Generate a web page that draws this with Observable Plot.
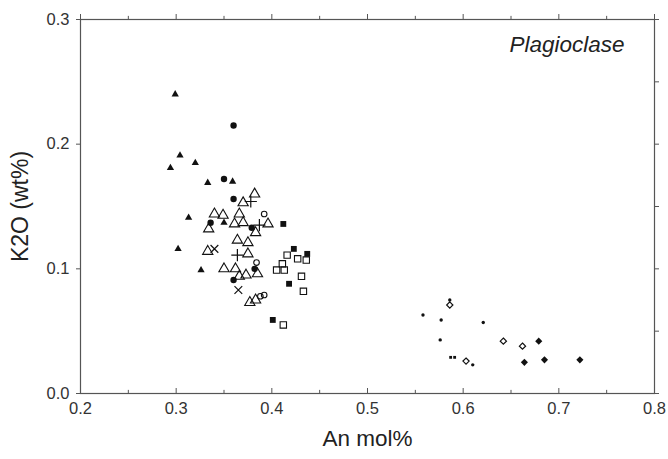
<!DOCTYPE html>
<html>
<head>
<meta charset="utf-8">
<script src="https://cdn.jsdelivr.net/npm/d3@7"></script>
<script src="https://cdn.jsdelivr.net/npm/@observablehq/plot@0.6"></script>
<style>
  html, body { margin: 0; padding: 0; background: #fff; }
  svg { font-family: "Liberation Sans", Arial, Helvetica, sans-serif; }
</style>
</head>
<body>
<div id="chart"></div>
<script>
// Tick values
const xMajorTicks = [0.2, 0.3, 0.4, 0.5, 0.6, 0.7, 0.8];
const xMinorTicks = [0.25, 0.35, 0.45, 0.55, 0.65, 0.75];
const yMajorTicks = [0.0, 0.1, 0.2, 0.3];
const yAllTicks = [0.0, 0.05, 0.1, 0.15, 0.2, 0.25, 0.3];

// Series: [An mol%, K2O wt%]
const filledTriangles = [
  [0.299, 0.240], [0.304, 0.191], [0.320, 0.185], [0.294, 0.181], [0.333, 0.169],
  [0.359, 0.170], [0.313, 0.141], [0.350, 0.137], [0.302, 0.116], [0.326, 0.099]
];
const filledCircles = [
  [0.360, 0.215], [0.350, 0.172], [0.360, 0.156], [0.336, 0.137], [0.379, 0.133],
  [0.382, 0.100], [0.360, 0.091]
];
const openTriangles = [
  [0.382, 0.160], [0.370, 0.153], [0.340, 0.144], [0.349, 0.143], [0.366, 0.144],
  [0.334, 0.132], [0.361, 0.136], [0.370, 0.137], [0.396, 0.136], [0.383, 0.129],
  [0.364, 0.123], [0.375, 0.121], [0.333, 0.114], [0.375, 0.112], [0.362, 0.100],
  [0.385, 0.096], [0.350, 0.100], [0.366, 0.094], [0.373, 0.095], [0.377, 0.073],
  [0.383, 0.075]
];
const plusMarks = [[0.378, 0.154], [0.387, 0.135], [0.364, 0.111]];
const crossMarks = [[0.340, 0.116], [0.365, 0.083]];
const openCircles = [[0.392, 0.144], [0.384, 0.105], [0.388, 0.078], [0.392, 0.079]];
const filledSquares = [[0.412, 0.136], [0.423, 0.116], [0.437, 0.112], [0.418, 0.088], [0.401, 0.059]];
const openSquares = [
  [0.416, 0.111], [0.427, 0.108], [0.436, 0.107], [0.411, 0.104], [0.405, 0.099],
  [0.413, 0.099], [0.431, 0.094], [0.433, 0.082], [0.412, 0.055]
];
const smallDots = [[0.558, 0.063], [0.577, 0.059], [0.576, 0.043], [0.610, 0.023], [0.621, 0.057], [0.586, 0.075]];
const openDiamonds = [[0.586, 0.071], [0.642, 0.042], [0.662, 0.038], [0.603, 0.026]];
const filledDiamonds = [[0.679, 0.042], [0.664, 0.025], [0.685, 0.027], [0.722, 0.027]];
const dashMarks = [[0.589, 0.029]];

const ink = "#111";
const axisColor = "#555";
const labelColor = "#333";

const plot = Plot.plot({
  width: 668,
  height: 459,
  marginLeft: 80,
  marginRight: 14,
  marginTop: 19,
  marginBottom: 66,
  style: {fontFamily: "'Liberation Sans', Arial, Helvetica, sans-serif", background: "#fff"},
  x: {domain: [0.2, 0.8]},
  y: {domain: [0, 0.3]},
  marks: [
    Plot.frame({stroke: axisColor, strokeWidth: 1.2}),
    // bottom axis labels
    Plot.axisX({ticks: xMajorTicks, tickSize: 0, tickPadding: 9, tickFormat: d3.format(".1f"),
      fontSize: 16.5, fill: labelColor, label: null}),
    // bottom inward ticks
    Plot.ruleX(xMajorTicks, {x: d => d, y1: 0, y2: 0.004, stroke: axisColor}),
    Plot.ruleX(xMinorTicks, {x: d => d, y1: 0, y2: 0.0025, stroke: axisColor}),
    // top outward ticks
    Plot.ruleX(xMajorTicks, {x: d => d, y1: 0.3, y2: 0.304, stroke: axisColor}),
    Plot.ruleX(xMinorTicks, {x: d => d, y1: 0.3, y2: 0.3025, stroke: axisColor}),
    // left axis
    Plot.axisY({ticks: yMajorTicks, tickSize: 4, tickPadding: 7, tickFormat: d3.format(".1f"),
      fontSize: 16.5, fill: labelColor, stroke: axisColor, label: null}),
    // right outward ticks
    Plot.axisY({anchor: "right", ticks: yAllTicks, tickSize: 4, tickFormat: () => "", stroke: axisColor, label: null}),
    // points
    Plot.dot(openTriangles, {x: d => d[0], y: d => d[1], symbol: "triangle", r: 3.8, stroke: ink, strokeWidth: 1.1, fill: "none"}),
    Plot.dot(openSquares, {x: d => d[0], y: d => d[1], symbol: "square", r: 3.6, stroke: ink, strokeWidth: 1.1, fill: "none"}),
    Plot.dot(openCircles, {x: d => d[0], y: d => d[1], symbol: "circle", r: 2.8, stroke: ink, strokeWidth: 1.1, fill: "none"}),
    Plot.dot(openDiamonds, {x: d => d[0], y: d => d[1], symbol: "diamond2", r: 2.8, stroke: ink, strokeWidth: 1.2, fill: "none"}),
    Plot.dot(filledTriangles, {x: d => d[0], y: d => d[1], symbol: "triangle", r: 2.7, fill: ink, stroke: "none"}),
    Plot.dot(filledCircles, {x: d => d[0], y: d => d[1], symbol: "circle", r: 3.2, fill: ink, stroke: "none"}),
    Plot.dot(filledSquares, {x: d => d[0], y: d => d[1], symbol: "square", r: 3.3, fill: ink, stroke: "none"}),
    Plot.dot(filledDiamonds, {x: d => d[0], y: d => d[1], symbol: "diamond2", r: 3.2, fill: ink, stroke: "none"}),
    Plot.dot(plusMarks, {x: d => d[0], y: d => d[1], symbol: "plus", r: 4, stroke: ink, strokeWidth: 1.2}),
    Plot.dot(crossMarks, {x: d => d[0], y: d => d[1], symbol: "times", r: 3.6, stroke: ink, strokeWidth: 1.2}),
    Plot.dot(smallDots, {x: d => d[0], y: d => d[1], symbol: "circle", r: 1.7, fill: ink, stroke: "none"}),
    Plot.dot(dashMarks, {x: d => d[0], y: d => d[1], symbol: "square", r: 1.6, fill: ink, stroke: "none", dx: -2}),
    Plot.dot(dashMarks, {x: d => d[0], y: d => d[1], symbol: "square", r: 1.6, fill: ink, stroke: "none", dx: 2}),
    // texts
    Plot.text(["Plagioclase"], {frameAnchor: "top-right", dx: -30, dy: 17, lineAnchor: "top",
      fontSize: 22.5, fontStyle: "italic", fill: "#222"}),
    Plot.text(["K2O (wt%)"], {frameAnchor: "left", dx: -60, rotate: -90, textAnchor: "middle",
      fontSize: 23, fill: "#222"}),
    Plot.text(["An mol%"], {frameAnchor: "bottom", dy: 52, fontSize: 22.5, fill: "#222"})
  ]
});
document.getElementById("chart").appendChild(plot);
</script>
</body>
</html>
